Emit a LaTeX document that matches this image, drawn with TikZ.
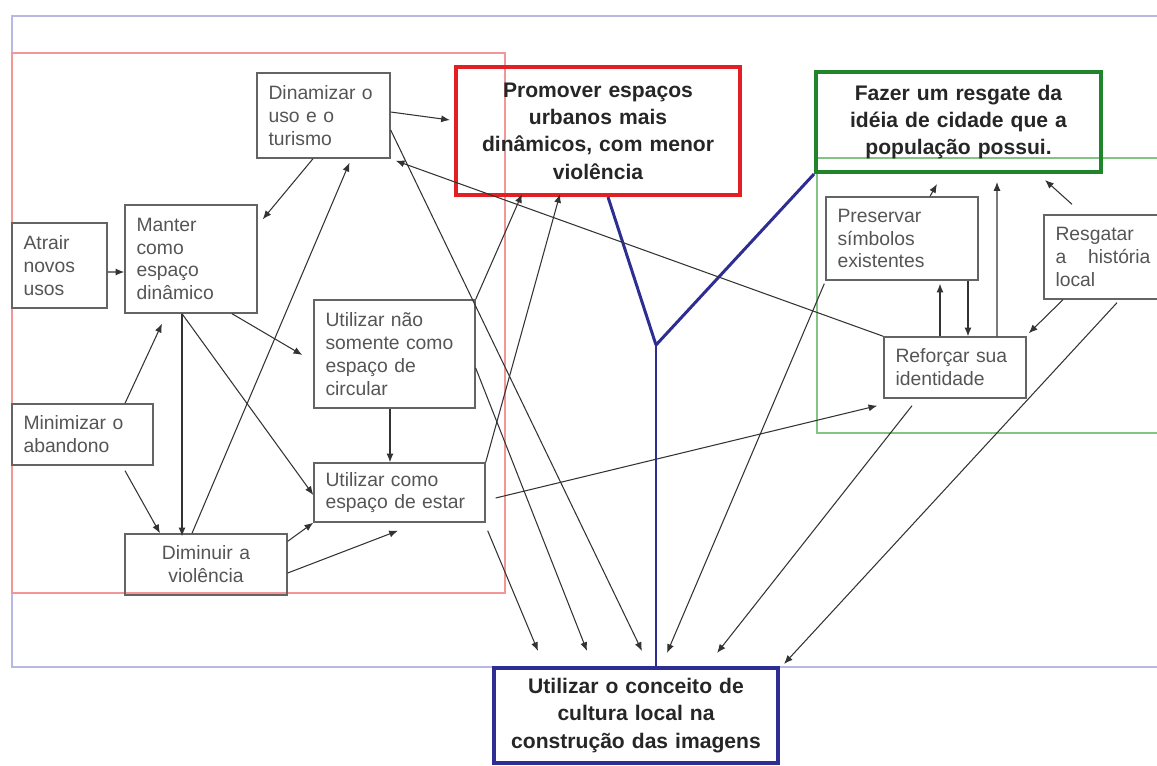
\documentclass[tikz,border=0pt]{standalone}
\usepackage{fontspec}
\setmainfont{Liberation Sans}
\usetikzlibrary{arrows.meta}
\usetikzlibrary{calc}

\definecolor{framelav}{RGB}{184,184,226}
\definecolor{framered}{RGB}{242,150,150}
\definecolor{framegreen}{RGB}{130,196,130}
\definecolor{goalred}{RGB}{226,32,36}
\definecolor{goalgreen}{RGB}{32,132,42}
\definecolor{goalblue}{RGB}{46,46,146}
\definecolor{boxgray}{RGB}{100,100,100}
\definecolor{txtgray}{RGB}{85,85,85}

\begin{document}
\begin{tikzpicture}[x=0.02cm, y=-0.02cm,
    small/.style={draw=boxgray, line width=0.8pt, text=txtgray, inner xsep=0.23cm, inner ysep=0pt,
        align=left, font=\fontsize{11}{13}\selectfont},
    goal/.style={line width=2.3pt, text=black!85, inner xsep=0.23cm, inner ysep=0pt,
        align=center, font=\fontsize{12}{15.5}\selectfont\bfseries},
    link/.style={draw=black!80, line width=0.6pt, -{Latex[length=5pt,width=4pt]}},
    trunk/.style={draw=goalblue, line width=1.7pt}]

    \useasboundingbox (0,0) rectangle (1157,765);

    \draw[framelav, line width=1.1pt] (1157,16) -- (12,16) -- (12,667) -- (1157,667);
    \draw[framered, line width=0.6pt] (12,53) rectangle (505,593);
    \draw[framegreen, line width=0.6pt] (1157,158) -- (817,158) -- (817,433) -- (1157,433);

    \node[small, text width=1.44cm, minimum height=1.7cm] (atrair) at (59.5,265.5) {Atrair\\novos\\usos};
    \node[small, text width=2.18cm, minimum height=2.16cm] (manter) at (191,259) {Manter\\como\\espaço\\dinâmico};
    \node[small, text width=2.2cm, minimum height=1.7cm] (dinamizar) at (323.5,115.5) {Dinamizar o\\uso e o\\turismo};
    \node[small, text width=2.36cm, minimum height=1.22cm] (minimizar) at (82.5,434.5) {Minimizar o\\abandono};
    \node[small, align=center, text width=2.78cm, minimum height=1.22cm] (diminuir) at (206,564.5) {Diminuir a\\violência};
    \node[small, text width=2.76cm, minimum height=2.16cm] (circular) at (394.5,354) {Utilizar não\\somente como\\espaço de\\circular};
    \node[small, text width=2.96cm, minimum height=1.18cm] (estar) at (399.5,492.5) {Utilizar como\\espaço de estar};

    \node[small, text width=2.58cm, minimum height=1.66cm] (preservar) at (902,238.5) {Preservar\\símbolos\\existentes};
    \node[small, text width=1.9cm, minimum height=1.68cm] (resgatar) at (1103,257) {Resgatar\\a\hfill história\\local};
    \node[small, text width=2.38cm, minimum height=1.22cm] (reforcar) at (955,367.5) {Reforçar sua\\identidade};

    \node[goal, draw=goalred, text width=5.22cm, minimum height=2.56cm] (promover) at (598,131) {Promover espaços\\urbanos mais\\dinâmicos, com menor\\violência};
    \node[goal, draw=goalgreen, text width=5.24cm, minimum height=2cm] (fazer) at (958.5,122) {Fazer um resgate da\\idéia de cidade que a\\população possui.};
    \node[goal, draw=goalblue, text width=5.22cm, minimum height=1.9cm] (conceito) at (636,715.5) {Utilizar o conceito de\\cultura local na\\construção das imagens};

    \coordinate (fork) at (656,345);
    \draw[trunk] ($(promover.south)+(10,0)$) -- (fork);
    \draw[trunk] (fazer.south west) -- (fork);
    \draw[trunk] (fork) -- (fork |- conceito.north);

    \draw[link] ($(atrair.east)+(0,6.5)$) -- ($(manter.west)+(0,13)$);
    \draw[link] ($(dinamizar.south)+(-10.5,0)$) -- ($(manter.north east)+(5,15)$);
    \draw[link] ($(diminuir.north)+(-14,0)$) -- ($(dinamizar.south)+(26,4)$);
    \draw[link] ($(manter.south)+(-9,0)$) -- ($(diminuir.north)+(-24,3)$);
    \draw[link] ($(minimizar.north)+(42.5,0)$) -- ($(manter.south)+(-29,10)$);
    \draw[link] ($(minimizar.south)+(42.5,5)$) -- ($(diminuir.north)+(-46,0)$);
    \draw[link] ($(manter.south)+(41,0)$) -- ($(circular.west)+(-11,1)$);
    \draw[link] ($(manter.south)+(-9,0)$) -- ($(estar.west)+(0,2.5)$);
    \draw[link] ($(diminuir.north east)+(0,8)$) -- (estar.south west);
    \draw[link] ($(diminuir.east)+(0,8.5)$) -- ($(estar.south)+(-1.5,8)$);
    \draw[link] ($(circular.south)+(-4.5,0)$) -- ($(estar.north)+(-9.5,0)$);

    \draw[link] ($(dinamizar.east)+(0,-3.5)$) -- ($(promover.west)+(-4,-11)$);
    \draw[link] (circular.north east) -- ($(promover.south)+(-76,-3)$);
    \draw[link] (estar.north east) -- ($(promover.south)+(-38,-3)$);
    \draw[link] (reforcar.north west) -- ($(dinamizar.south east)+(5,2)$);
    \draw[link] ($(estar.east)+(10,5.5)$) -- ($(reforcar.south west)+(-6,7)$);

    \draw[link] ($(estar.south east)+(2,8)$) -- ($(conceito.north)+(-98,-15)$);
    \draw[link] ($(circular.east)+(0,14)$) -- ($(conceito.north)+(-49,-15)$);
    \draw[link] ($(dinamizar.east)+(0,14.5)$) -- ($(conceito.north)+(6,-15)$);
    \draw[link] ($(preservar.south west)+(-1,3)$) -- ($(conceito.north)+(31,-13)$);
    \draw[link] ($(reforcar.south)+(-43,7)$) -- ($(conceito.north)+(81,-13)$);
    \draw[link] ($(resgatar.south)+(14,3)$) -- ($(conceito.north east)+(4,-2)$);

    \draw[link] ($(preservar.north)+(28,0)$) -- ($(fazer.south)+(-21.5,10)$);
    \draw[link] ($(reforcar.north)+(42,0)$) -- ($(fazer.south)+(38.5,8)$);
    \draw[link] ($(resgatar.north)+(-31,-10)$) -- ($(fazer.south)+(86.5,6)$);
    \draw[link] ($(reforcar.north)+(-15,0)$) -- ($(preservar.south)+(38,3)$);
    \draw[link] ($(preservar.south)+(66,0)$) -- ($(reforcar.north)+(13,0)$);
    \draw[link] ($(resgatar.south)+(-40,0)$) -- ($(reforcar.north east)+(2,-3)$);

\end{tikzpicture}
\end{document}
